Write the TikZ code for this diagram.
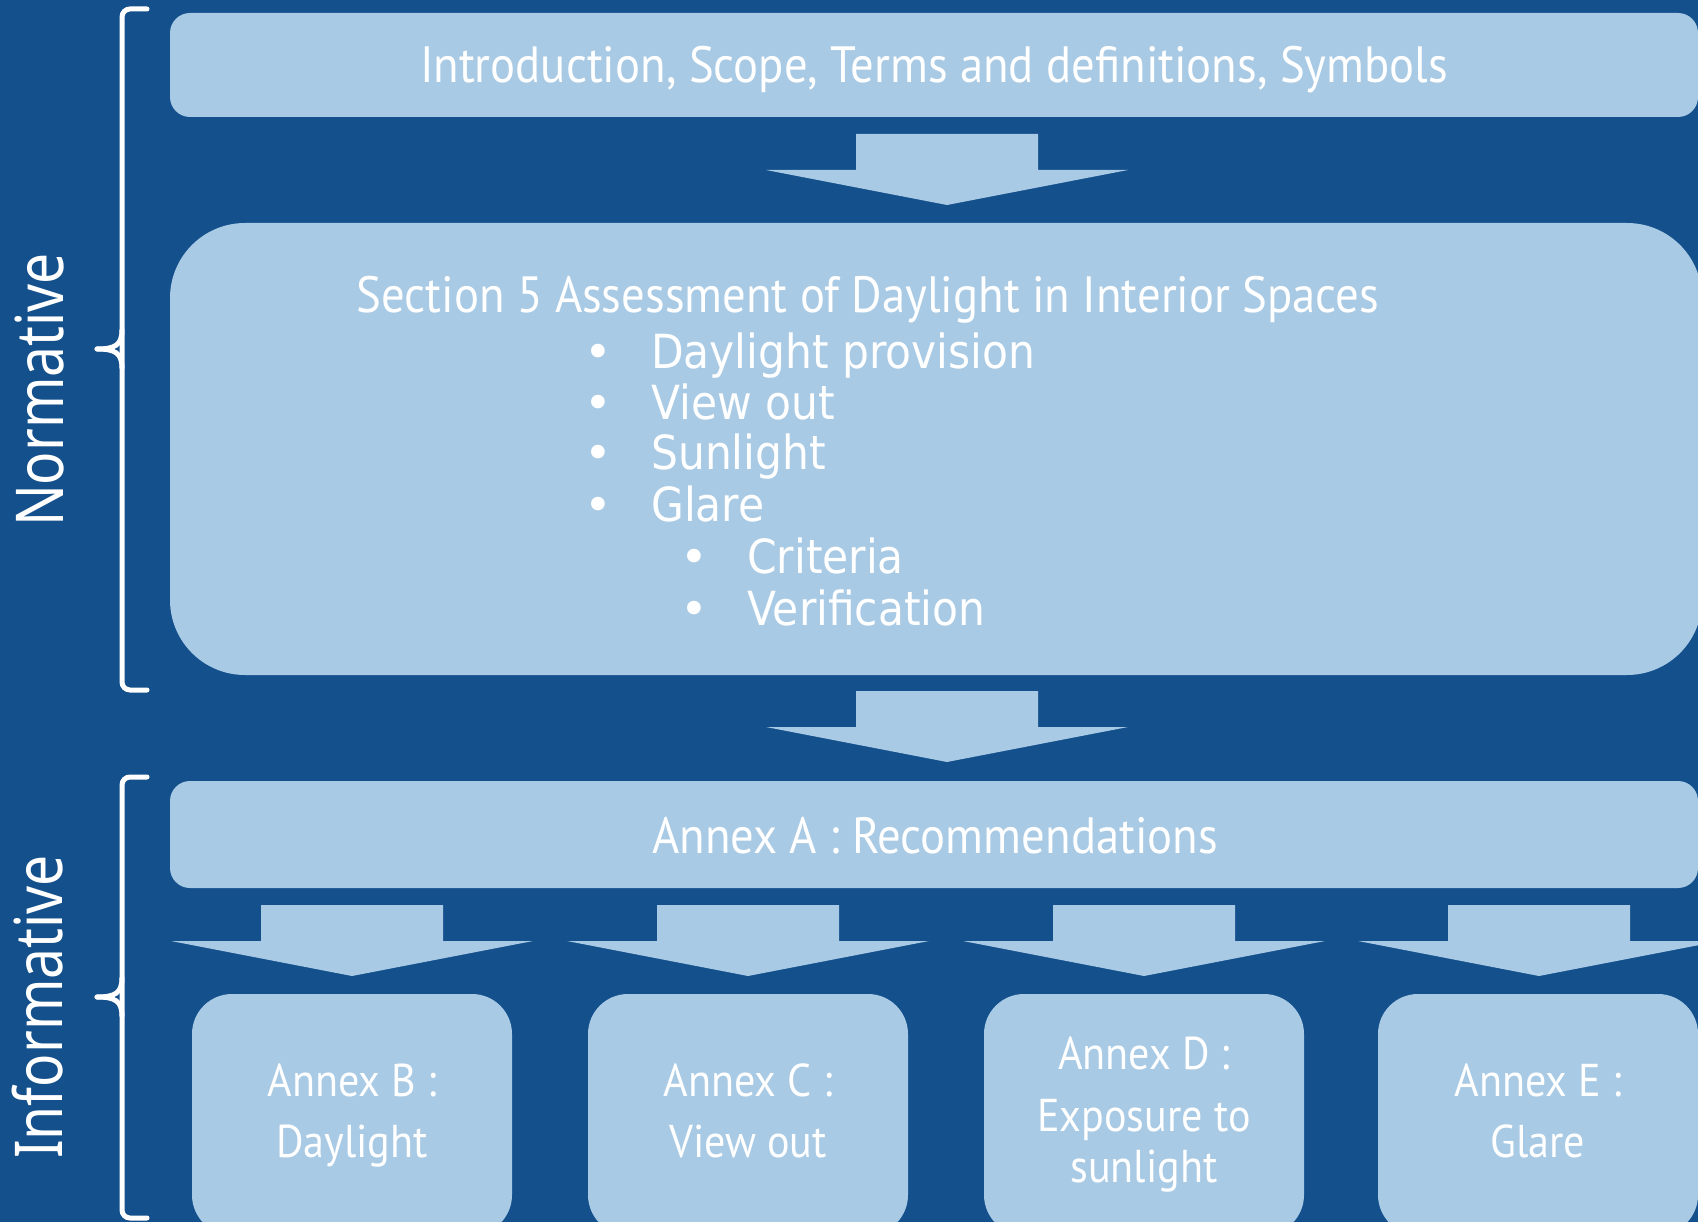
\documentclass[tikz,border=0pt]{standalone}
\usepackage{fontspec}
\usepackage{graphicx}
\newfontfamily\headfont{PT Sans}
\newfontfamily\bulfont{DejaVu Sans}
\newfontfamily\sidefont{Noto Sans}
\definecolor{bgblue}{RGB}{20,80,140}
\definecolor{boxblue}{RGB}{169,202,228}
\newsavebox\measbox
\newcommand\hstr[1]{\scalebox{\hsx}[1]{#1}}
\newcommand\bstr[1]{\scalebox{\bsx}[1]{#1}}
\newcommand\sstr[1]{\scalebox{\ssx}[1]{#1}}
\tikzset{
  box/.style={fill=boxblue, draw=none, inner sep=0pt, rounded corners=20pt},
  bigtxt/.style={text=white, inner sep=0pt, anchor=base, font=\headfont\fontsize{51}{60}\selectfont},
  smalltxt/.style={text=white, inner sep=0pt, anchor=base, font=\headfont\fontsize{46}{55}\selectfont},
  bultxt/.style={text=white, inner sep=0pt, anchor=base west, font=\bulfont\fontsize{47}{56}\selectfont},
  dot/.style={text=white, inner sep=0pt, anchor=base, font=\bulfont\fontsize{47}{56}\selectfont},
  sidetxt/.style={text=white, inner sep=0pt, anchor=center, rotate=90, font=\sidefont\fontsize{66}{70}\selectfont},
  brace/.style={draw=white, line width=5pt, line cap=round, rounded corners=8pt},
  blockarrow/.pic={\fill[boxblue] (-91,0) -- (91,0) -- (91,36) -- (181,36) -- (0,71) -- (-181,36) -- (-91,36) -- cycle;}
}
\begin{document}
\sbox\measbox{\headfont\fontsize{51}{60}\selectfont Introduction, Scope, Terms and definitions, Symbols}%
\pgfmathsetmacro\hsx{1028/\the\wd\measbox}%
\sbox\measbox{\bulfont\fontsize{47}{56}\selectfont Daylight provision}%
\pgfmathsetmacro\bsx{384/\the\wd\measbox}%
\sbox\measbox{\sidefont\fontsize{66}{70}\selectfont Normative}%
\pgfmathsetmacro\ssx{274/\the\wd\measbox}%
\begin{tikzpicture}[x=1pt,y=-1pt]
\useasboundingbox (0,0) rectangle (1698,1222);
\fill[bgblue] (0,0) rectangle (1698,1222);

% boxes
\node[box, minimum width=1528pt, minimum height=104pt] (intro) at (934,65) {};
\node[box, rounded corners=75pt, minimum width=1532pt, minimum height=452pt] (sec) at (936,449) {};
\node[box, minimum width=1528pt, minimum height=107pt] (annexa) at (934,834.5) {};
\node[box, rounded corners=40pt, minimum width=320pt, minimum height=241pt] (annexb) at (352,1114.5) {};
\node[box, rounded corners=40pt, minimum width=320pt, minimum height=241pt] (annexc) at (748,1114.5) {};
\node[box, rounded corners=40pt, minimum width=320pt, minimum height=241pt] (annexd) at (1144,1114.5) {};
\node[box, rounded corners=40pt, minimum width=320pt, minimum height=241pt] (annexe) at (1538,1114.5) {};

% block arrows
\pic at (947,134) {blockarrow};
\pic at (947,691) {blockarrow};
\pic at (352,905) {blockarrow};
\pic at (748,905) {blockarrow};
\pic at (1144,905) {blockarrow};
\pic at (1539,905) {blockarrow};

% texts
\node[bigtxt] (introtxt) at (934,83) {\hstr{Introduction, Scope, Terms and definitions, Symbols}};
\node[bigtxt] (sectxt) at (868,313) {\hstr{Section 5 Assessment of Daylight in Interior Spaces}};
\node[dot] (d1) at (598,369) {•};
\node[dot] (d2) at (598,420) {•};
\node[dot] (d3) at (598,470) {•};
\node[dot] (d4) at (598,521) {•};
\node[dot] (d5) at (694,573) {•};
\node[dot] (d6) at (694,625) {•};
\node[bultxt] (b1) at (651,369) {\bstr{Daylight provision}};
\node[bultxt] (b2) at (651,420) {\bstr{View out}};
\node[bultxt] (b3) at (651,470) {\bstr{Sunlight}};
\node[bultxt] (b4) at (651,521) {\bstr{Glare}};
\node[bultxt] (b5) at (747,573) {\bstr{Criteria}};
\node[bultxt] (b6) at (747,625) {\bstr{Verification}};
\node[bigtxt] (atxt) at (935,853) {\hstr{Annex A : Recommendations}};

\node[smalltxt] (btxt1) at (352,1096) {\hstr{Annex B :}};
\node[smalltxt] (btxt2) at (352,1157) {\hstr{Daylight}};
\node[smalltxt] (ctxt1) at (748,1096) {\hstr{Annex C :}};
\node[smalltxt] (ctxt2) at (748,1157) {\hstr{View out}};
\node[smalltxt] (dtxt1) at (1144,1069) {\hstr{Annex D :}};
\node[smalltxt] (dtxt2) at (1144,1131) {\hstr{Exposure to}};
\node[smalltxt] (dtxt3) at (1144,1182) {\hstr{sunlight}};
\node[smalltxt] (etxt1) at (1538,1096) {\hstr{Annex E :}};
\node[smalltxt] (etxt2) at (1538,1157) {\hstr{Glare}};

% side labels and braces
\node[sidetxt] (norm) at (40,390) {\sstr{Normative}};
\node[sidetxt] (inform) at (38,1007) {\sstr{Informative}};
\draw[brace] (147,9) -- (122,9) -- (122,690) -- (147,690);
\draw[draw=white, line width=5pt, line cap=round] (122,330) .. controls (122,345) and (115,349) .. (97,349);
\draw[draw=white, line width=5pt, line cap=round] (122,368) .. controls (122,353) and (115,349) .. (97,349);
\draw[brace] (147,777) -- (122,777) -- (122,1218) -- (147,1218);
\draw[draw=white, line width=5pt, line cap=round] (122,978) .. controls (122,993) and (115,997) .. (97,997);
\draw[draw=white, line width=5pt, line cap=round] (122,1016) .. controls (122,1001) and (115,997) .. (97,997);
\end{tikzpicture}
\end{document}
